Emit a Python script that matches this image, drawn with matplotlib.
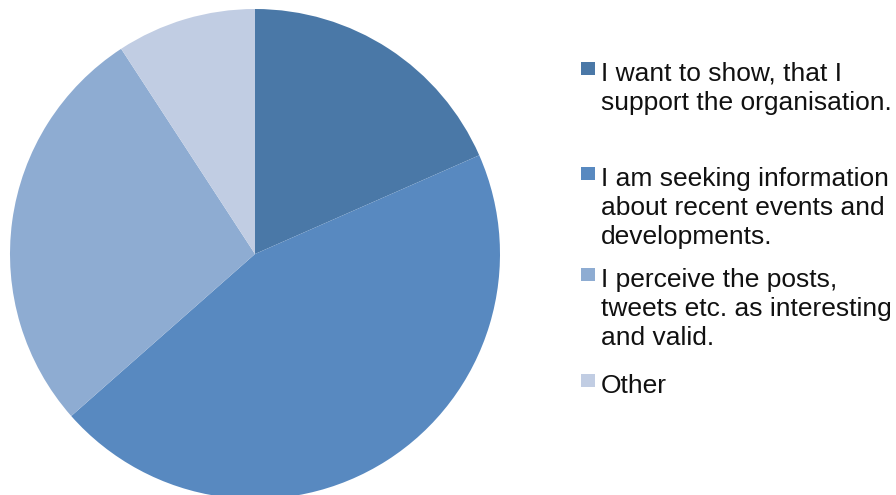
import matplotlib
matplotlib.use("Agg")
import matplotlib.pyplot as plt
from matplotlib.patches import Rectangle

# share of answers per reason (percent)
labels = ["I want to show, that I\nsupport the organisation.",
          "I am seeking information\nabout recent events and\ndevelopments.",
          "I perceive the posts,\ntweets etc. as interesting\nand valid.",
          "Other"]
shares = [18.4, 45.1, 27.3, 9.2]
colors = ["#4A78A7", "#5889C0", "#8EACD2", "#C1CDE3"]

W, H = 896, 495
fig = plt.figure(figsize=(W / 100, H / 100), dpi=100)

# pie: centre (255, 254), radius 245 px, bottom runs off the figure
cx, cy, r = 255, 254, 245
ax = fig.add_axes([(cx - r) / W, (H - cy - r) / H, 2 * r / W, 2 * r / H])
ax.pie(shares, colors=colors, startangle=90, counterclock=False, radius=1,
       wedgeprops=dict(linewidth=0))
ax.set_xlim(-1, 1)
ax.set_ylim(-1, 1)
ax.set_aspect("auto")
ax.axis("off")

# legend drawn by hand, baselines in pixels from the top
baselines = [81, 186, 287, 393]
step = 29
tx = 601 / W
for lab, col, b in zip(labels, colors, baselines):
    fig.add_artist(Rectangle((581 / W, (H - b + 6) / H), 14 / W, 13 / H,
                             transform=fig.transFigure, facecolor=col,
                             edgecolor="none"))
    for i, line in enumerate(lab.split("\n")):
        fig.text(tx, (H - b - i * step) / H, line, fontsize=19,
                 family="Liberation Sans", color="#111111", va="baseline",
                 ha="left")

fig.savefig("out.png", dpi=100)
